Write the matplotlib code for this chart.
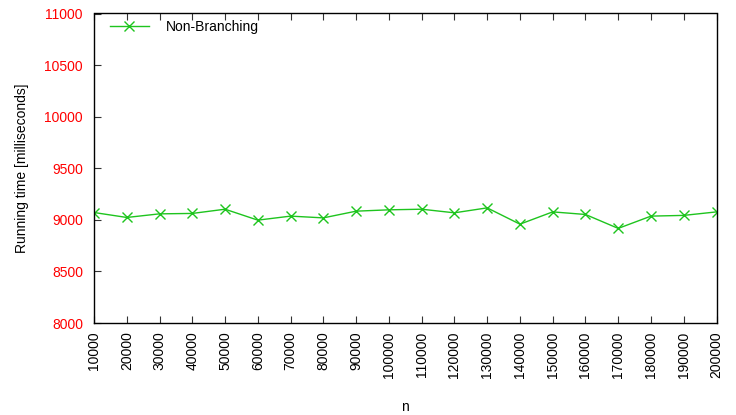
import matplotlib
matplotlib.use("Agg")
import matplotlib.pyplot as plt

plt.rcParams['font.family'] = ['Liberation Sans', 'DejaVu Sans']

n_values = [10000, 20000, 30000, 40000, 50000, 60000, 70000, 80000, 90000, 100000,
            110000, 120000, 130000, 140000, 150000, 160000, 170000, 180000, 190000, 200000]
running_ms = [9071, 9023, 9058, 9062, 9103, 8997, 9036, 9019, 9084, 9097,
              9103, 9068, 9116, 8958, 9077, 9052, 8917, 9036, 9043, 9077]
y_ticks = [8000, 8500, 9000, 9500, 10000, 10500, 11000]

fig = plt.figure(figsize=(7.36, 4.15), dpi=100)
ax = fig.add_axes([94 / 736, 1 - 323 / 415, (716.5 - 94) / 736, (323 - 13.5) / 415])

green = '#1ec41e'
ax.plot(n_values, running_ms, color=green, lw=1.0, marker='x', ms=7, mew=1.0,
        label='Non-Branching')

ax.set_xlim(n_values[0], n_values[-1])
ax.set_ylim(y_ticks[0], y_ticks[-1])
ax.set_xticks(n_values)
ax.set_xticklabels([str(v) for v in n_values], rotation=90, fontsize=10)
ax.set_yticks(y_ticks)
ax.set_yticklabels([str(v) for v in y_ticks], fontsize=10, color='#ff0000')

ax.tick_params(axis='x', direction='in', top=True, bottom=True, length=5, width=0.8,
               pad=6, color='#333333')
ax.tick_params(axis='y', direction='in', left=True, right=False, length=5, width=0.8,
               pad=8, color='#333333')
for s in ax.spines.values():
    s.set_linewidth(1.0)
    s.set_color('black')

ax.set_xlabel('n', fontsize=10, labelpad=16)
ax.set_ylabel('Running time [milliseconds]', fontsize=10, labelpad=11)

ax.legend(loc='upper left', frameon=False, fontsize=10, handlelength=2.8,
          handletextpad=1.2, borderaxespad=0.3, bbox_to_anchor=(0.01, 1.01))

fig.savefig('out.png', dpi=100)
